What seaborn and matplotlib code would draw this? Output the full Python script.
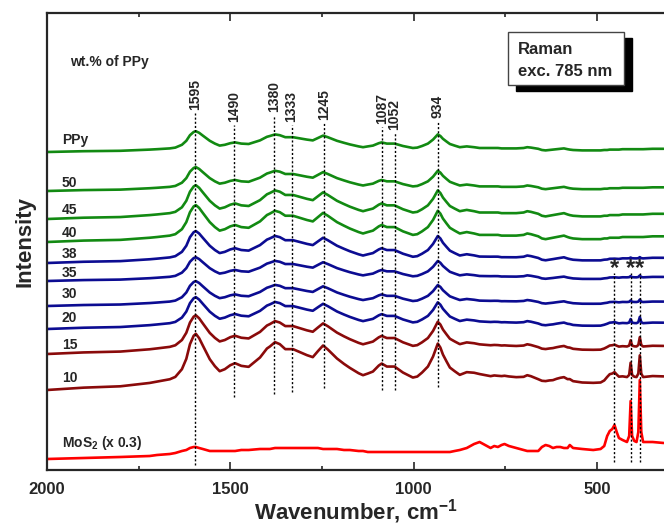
import matplotlib
matplotlib.use("Agg")
import numpy as np
import pandas as pd
import matplotlib.pyplot as plt
import seaborn as sns
from matplotlib.patches import Rectangle

# ---------------- data ----------------
WAVENUMBER = [
    2000, 1900, 1800, 1720, 1700, 1665, 1650, 1632, 1620, 1610,
    1600, 1594, 1585, 1575, 1556, 1542, 1529, 1515, 1500, 1487,
    1470, 1450, 1419, 1400, 1392, 1378, 1365, 1350, 1329, 1310,
    1291, 1275, 1261, 1247, 1234, 1209, 1190, 1174, 1150, 1138,
    1125, 1111, 1095, 1087, 1073, 1052, 1029, 1002, 990, 977,
    961, 947, 940, 934, 927, 920, 910, 901, 888, 874,
    855, 835, 820, 810, 800, 790, 780, 770, 760, 752,
    740, 720, 700, 690, 680, 660, 650, 640, 630, 620,
    610, 600, 590, 580, 574, 565, 540, 510, 490, 480,
    472, 465, 458, 452, 446, 440, 430, 418, 412, 408,
    404, 398, 392, 387, 383, 379, 374, 348, 318,
]
# PPy band profile (relative intensity, as in the 10 wt.% trace)
PPY_PROFILE = [
    0, 2, 3, 6, 7, 9, 11, 18, 28, 42,
    50, 52, 48, 41, 28, 21, 16, 18, 22, 24,
    21, 20, 29, 38, 40, 44, 42, 37, 37, 34,
    31, 29, 35, 41, 37, 28, 23, 19, 14, 12,
    14, 16, 22, 24, 21, 21, 15, 10, 11, 15,
    21, 31, 38, 44, 40, 33, 26, 20, 16, 12,
    14, 12, 10, 10, 10, 10, 10, 10, 9, 9,
    9, 9, 10, 12, 11, 8, 5, 4, 5, 6,
    7, 8, 9, 7, 6, 5, 4, 4, 4, 5,
    5, 6, 6, 6, 6, 6, 7, 7, 7, 7,
    7, 7, 7, 7, 7, 7, 7, 8, 8,
]
# MoS2 profile (relative intensity)
MOS2_PROFILE = [
    0, 1, 2, 3, 4, 5, 6, 8, 9, 11,
    12, 12, 11, 10, 8, 8, 8, 8, 8, 8,
    9, 9, 10, 10, 10, 11, 11, 11, 11, 11,
    11, 11, 11, 10, 10, 10, 9, 9, 8, 8,
    7, 7, 7, 7, 7, 7, 7, 7, 7, 7,
    7, 7, 7, 7, 7, 7, 7, 7, 8, 9,
    11, 15, 17, 15, 13, 11, 13, 12, 14, 15,
    13, 11, 9, 8, 8, 8, 12, 14, 13, 11,
    12, 12, 11, 11, 14, 11, 10, 9, 10, 13,
    23, 28, 30, 34, 27, 21, 19, 17, 23, 58,
    23, 18, 17, 27, 79, 27, 17, 17, 16,
]

SAMPLES = ["MoS2", "10", "15", "20", "30", "35", "38", "40", "45", "50", "PPy"]
SAMPLE_LABELS = ["MoS$_2$ (x 0.3)", "10", "15", "20", "30", "35", "38", "40", "45", "50", "PPy"]
OFFSET = [11, 80, 116, 141, 164, 189, 207, 228, 251, 279, 318]
PPY_WEIGHT = [0.0, 1.0, 0.71, 0.59, 0.47, 0.45, 0.61, 0.71, 0.65, 0.46, 0.40]
MOS2_WEIGHT = [1.0, 0.35, 0.15, 0.10, 0.04, 0.03, 0.02, 0.0, 0.0, 0.0, 0.0]

PEAKS = [1595, 1490, 1380, 1333, 1245, 1087, 1052, 934]
STAR_PEAKS = [453, 408, 383]

GREEN, NAVY, DARKRED, RED = "#128a12", "#0c0c92", "#8a0a0a", "#ff0000"
COLORS = [RED, DARKRED, DARKRED, NAVY, NAVY, NAVY, NAVY, GREEN, GREEN, GREEN, GREEN]

# ---------------- build table ----------------
wn = np.array(WAVENUMBER, float)
p = np.array(PPY_PROFILE, float)
m = np.array(MOS2_PROFILE, float)
frames = []
for s, off, a, b in zip(SAMPLES, OFFSET, PPY_WEIGHT, MOS2_WEIGHT):
    frames.append(pd.DataFrame({"wavenumber": wn,
                                "intensity": off + a * p + b * m,
                                "sample": s}))
df = pd.concat(frames, ignore_index=True)

# ---------------- style ----------------
sns.set_style("ticks")
plt.rcParams["font.family"] = ["Liberation Sans", "DejaVu Sans"]
plt.rcParams["mathtext.fontset"] = "custom"
plt.rcParams["mathtext.rm"] = "Liberation Sans:bold"
plt.rcParams["mathtext.bf"] = "Liberation Sans:bold"
plt.rcParams["mathtext.it"] = "Liberation Sans:bold"

fig = plt.figure(figsize=(6.64, 5.28), dpi=100)
ax = fig.add_axes([47 / 664, 1 - 470 / 528, 617 / 664, 457 / 528])

sns.lineplot(data=df, x="wavenumber", y="intensity", hue="sample",
             hue_order=SAMPLES, palette=dict(zip(SAMPLES, COLORS)),
             sort=False, estimator=None, legend=False, lw=1.9, ax=ax)

ax.set_xlim(2000, 317)
ax.set_ylim(0, 457)
ax.set_yticks([])
ax.set_xticks([2000, 1500, 1000, 500])
ax.set_xticklabels(["2000", "1500", "1000", "500"], fontweight="bold", fontsize=12)
ax.set_xticks([1750, 1250, 750], minor=True)
ax.tick_params(axis="x", which="major", direction="in", length=6, width=1.2,
               top=True, bottom=True, pad=9)
ax.tick_params(axis="x", which="minor", direction="in", length=3, width=1.2,
               top=True, bottom=True)
for sp in ["left", "top", "bottom"]:
    ax.spines[sp].set_linewidth(1.6)
    ax.spines[sp].set_visible(True)
ax.spines["right"].set_visible(False)

ax.set_xlabel(r"Wavenumber, cm$^{-1}$", fontsize=16, fontweight="bold", labelpad=0)
ax.set_ylabel("Intensity", fontsize=16, fontweight="bold", labelpad=8)

# sample labels
LABEL_Y = [27, 92, 125, 152, 176, 197, 216, 237, 260, 287, 330]
for lab, ly in zip(SAMPLE_LABELS, LABEL_Y):
    ax.text(1960, ly, lab, fontsize=10, fontweight="bold", ha="left", va="center")
ax.text(1937, 408, "wt.% of PPy", fontsize=10, fontweight="bold", ha="left", va="center")

# peak markers
PEAK_LABEL_Y = [360, 348, 358, 348, 350, 346, 340, 352]
PEAK_LINE_BOTTOM = [5, 73, 76, 78, 82, 80, 80, 83]
for pk, ly, lb in zip(PEAKS, PEAK_LABEL_Y, PEAK_LINE_BOTTOM):
    ax.vlines(pk, lb, ly - 3, colors="black", linestyles=(0, (1.5, 1.5)), lw=1.0, zorder=5)
    ax.text(pk, ly, str(pk), rotation=90, fontsize=10, fontweight="bold",
            ha="center", va="bottom")
for pk in STAR_PEAKS:
    ax.vlines(pk, 8, 197, colors="black", linestyles=(0, (1.5, 1.5)), lw=1.0, zorder=5)
    ax.text(pk, 190, "*", fontsize=17, fontweight="bold", ha="center", va="bottom")

# box with shadow
ax.add_patch(Rectangle((0.760, 0.829), 0.188, 0.116, transform=ax.transAxes,
                       facecolor="black", edgecolor="black", zorder=8, clip_on=False))
ax.add_patch(Rectangle((0.747, 0.842), 0.188, 0.116, transform=ax.transAxes,
                       facecolor="white", edgecolor="#444444", lw=1.0, zorder=9, clip_on=False))
ax.text(0.763, 0.921, "Raman", transform=ax.transAxes, fontsize=12,
        fontweight="bold", ha="left", va="center", zorder=10)
ax.text(0.763, 0.871, "exc. 785 nm", transform=ax.transAxes, fontsize=12,
        fontweight="bold", ha="left", va="center", zorder=10)

fig.savefig("out.png", dpi=100)
